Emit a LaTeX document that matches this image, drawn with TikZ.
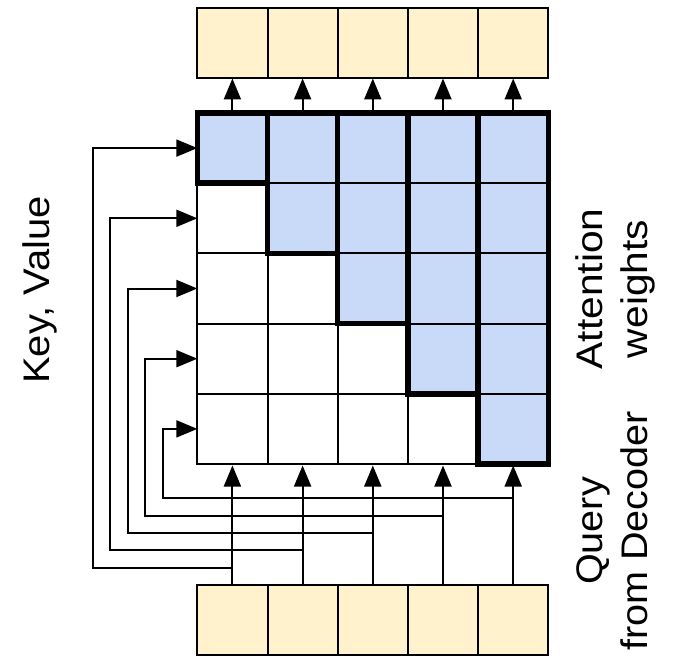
\documentclass[tikz,border=0pt]{standalone}
\usepackage{fontspec}
\setmainfont{Liberation Sans}
\usetikzlibrary{arrows.meta}
\definecolor{beige}{HTML}{FFF2CC}
\definecolor{lblue}{HTML}{C9DAF8}
\begin{document}
\begin{tikzpicture}[x=1pt,y=-1pt,
  cellbox/.style={draw=black, line width=2pt, minimum width=70.2pt, minimum height=70.2pt,
    inner sep=0pt, outer sep=0pt, anchor=north west},
  tokbox/.style={cellbox, fill=beige},
  thickcol/.style={draw=black, line width=5.5pt},
  arr/.style={-{Triangle[length=21pt,width=17pt]}, line width=2pt},
  lbl/.style={rotate=90, inner sep=0pt, font=\fontsize{37}{45}\selectfont}]
\useasboundingbox (0,0) rectangle (687,655);
% top and bottom token rows
\foreach \j in {0,...,4}{
  \node[tokbox] (t\j) at (197.3+70.2*\j, 8.3) {};
  \node[tokbox] (b\j) at (197.3+70.2*\j, 585) {};
}
% attention grid
\foreach \i in {0,...,4}{
  \foreach \j in {0,...,4}{
    \ifnum\j<\i
      \node[cellbox, fill=white] (c-\i-\j) at (197.3+70.2*\j, 113+70.2*\i) {};
    \else
      \node[cellbox, fill=lblue] (c-\i-\j) at (197.3+70.2*\j, 113+70.2*\i) {};
    \fi
  }
}
% connectors
\foreach \i in {0,...,4}{
  \coordinate (k\i) at (92.7+17.5*\i, 567.7-17.4*\i);
  \draw[arr] (b\i.north) |- (k\i) |- (c-\i-0.west);
  \draw[arr, shorten >=1.5pt] (b\i.north) -- (c-4-\i.south);
  \draw[arr] (c-0-\i.north) -- (t\i.south);
}
% thick column outlines
\foreach \j in {0,...,4}{
  \draw[thickcol] (c-0-\j.north west) rectangle (c-\j-\j.south east);
}
% labels
\node[lbl] (kv) at (40,290) {\scalebox{1.08}[1]{Key, Value}};
\node[lbl] (aw) at (616,289) {\scalebox{1.1}[1]{\begin{tabular}{@{}c@{}}Attention\\weights\end{tabular}}};
\node[lbl] (qd) at (616,531) {\scalebox{1.07}[1]{\begin{tabular}{@{}c@{}}Query\\from Decoder\end{tabular}}};
\end{tikzpicture}
\end{document}
